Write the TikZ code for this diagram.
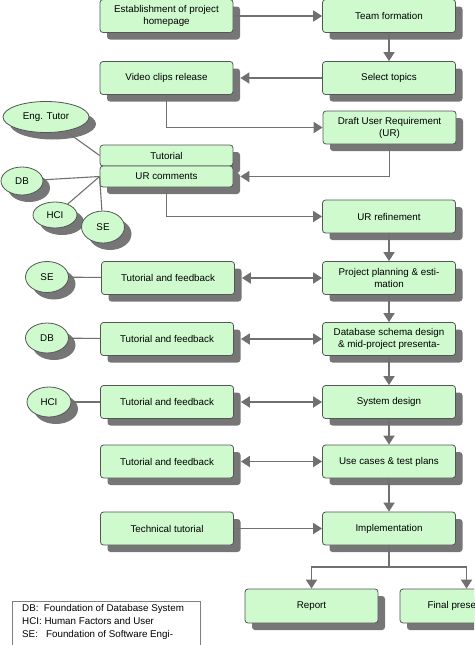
\documentclass[tikz,border=0pt]{standalone}
\usepackage{fontspec}
\setmainfont{Liberation Sans}
\usetikzlibrary{arrows.meta,shapes.geometric,shadows}
\definecolor{boxgreen}{RGB}{206,250,206}
\definecolor{edgegray}{RGB}{85,85,85}
\definecolor{arrowgray}{RGB}{112,112,112}
\definecolor{shadowgray}{RGB}{118,118,118}

\begin{document}
\begin{tikzpicture}[x=1pt,y=-1pt,
    font=\fontsize{9.8}{12}\selectfont,
    shade7/.style={drop shadow={shadow xshift=7pt,shadow yshift=-7pt,fill=shadowgray,opacity=1}},
    stepbox/.style={draw=edgegray,line width=0.8pt,fill=boxgreen,rounded corners=3pt,
        minimum width=133pt,minimum height=33pt,align=center,inner sep=1pt,shade7},
    halfbox/.style={stepbox,minimum height=21pt},
    course/.style={ellipse,draw=edgegray,line width=0.8pt,fill=boxgreen,inner sep=0pt,shade7},
    arr/.style={draw=arrowgray,line width=1.8pt,-{Triangle[length=9pt,width=11pt]}},
    dbl/.style={draw=arrowgray,line width=1.8pt,{Triangle[length=9pt,width=11pt]}-{Triangle[length=9pt,width=11pt]}},
    link/.style={draw=arrowgray,line width=1.1pt}]
    \useasboundingbox (0,0) rectangle (474,645);
    \clip (0,0) rectangle (474,645);

    \node[stepbox] (home) at (166.5,16) {Establishment of project\\homepage};
    \node[stepbox] (team) at (389,16) {Team formation};
    \node[stepbox] (video) at (166.5,78) {Video clips release};
    \node[stepbox] (topics) at (389,78) {Select topics};
    \node[stepbox] (draft) at (389.5,127.5) {Draft User Requirement\\(UR)};
    \node[halfbox] (tutorial) at (166.5,155.5) {Tutorial};
    \node[halfbox] (urcom) at (166.5,176.5) {UR comments};
    \node[stepbox] (refine) at (389,216.5) {UR refinement};

    \node[course,minimum width=86pt,minimum height=31pt] (engtut) at (46,117) {Eng. Tutor};
    \node[course,minimum width=42pt,minimum height=28pt] (dbA) at (22,181) {DB};
    \node[course,minimum width=44pt,minimum height=26pt] (hciA) at (55,215) {HCI};
    \node[course,minimum width=43pt,minimum height=32pt] (seA) at (103,227) {SE};

    \node[stepbox] (plan) at (389,278) {Project planning \& esti-\\mation};
    \node[stepbox] (fbse) at (168,278) {Tutorial and feedback};
    \node[course,minimum width=43pt,minimum height=31pt] (seB) at (47,277) {SE};

    \node[stepbox] (schema) at (389,339) {Database schema design\\\& mid-project presenta-};
    \node[stepbox] (fbdb) at (167,339) {Tutorial and feedback};
    \node[course,minimum width=43pt,minimum height=30pt] (dbB) at (47,338) {DB};

    \node[stepbox] (sysdes) at (389,402) {System design};
    \node[stepbox] (fbhci) at (167,402) {Tutorial and feedback};
    \node[course,minimum width=44pt,minimum height=30pt] (hciB) at (49,402) {HCI};

    \node[stepbox] (usecase) at (389,461.5) {Use cases \& test plans};
    \node[stepbox] (fbuse) at (167,461.5) {Tutorial and feedback};

    \node[stepbox] (impl) at (389,528.5) {Implementation};
    \node[stepbox] (tech) at (167,528.5) {Technical tutorial};

    \node[stepbox,minimum height=34pt] (report) at (311.5,606) {Report};
    \node[stepbox,minimum height=34pt] (final) at (466.5,606) {Final presentation};

    \draw[arr] (home) -- (team);
    \draw[arr] (team) -- (topics);
    \draw[arr] (topics.west) -- ([xshift=7pt]video.east);
    \draw[arr] (video.south) |- (draft.west);
    \draw[arr] (draft.south) |- ([xshift=7pt]urcom.east);
    \draw[arr] (urcom.south) |- (refine.west);
    \draw[arr] (refine) -- (plan);
    \draw[arr] (plan) -- (schema);
    \draw[arr] (schema) -- (sysdes);
    \draw[arr] (sysdes) -- (usecase);
    \draw[arr] (usecase) -- (impl);
    \draw[arr] (tech) -- (impl);
    \coordinate (fork) at (389,567);
    \draw[arr] (impl.south) -- (fork) -| (report.north);
    \draw[arr] (fork) -| (final.north);

    \draw[dbl] ([xshift=7pt]fbse.east) -- (plan.west);
    \draw[dbl] ([xshift=7pt]fbdb.east) -- (schema.west);
    \draw[dbl] ([xshift=7pt]fbhci.east) -- (sysdes.west);
    \draw[dbl] ([xshift=7pt]fbuse.east) -- (usecase.west);

    \draw[link] (engtut) -- (tutorial.west);
    \draw[link] (dbA) -- (urcom.west);
    \draw[link] (hciA) -- (urcom.west);
    \draw[link] (seA) -- (urcom.west);
    \draw[link] (seB) -- (fbse);
    \draw[link] (dbB) -- (fbdb);
    \draw[link] (hciB) -- (fbhci);

    \node[draw=gray,line width=0.6pt,fill=white,anchor=north west,minimum width=188pt,
        minimum height=60pt,inner sep=0pt] (legend) at (12,601) {};
    \node[anchor=north west,align=left,inner sep=0pt,font=\fontsize{9.8}{13}\selectfont] (legtext) at (22,604)
        {DB:\ \ Foundation of Database System\\HCI: Human Factors and User\\SE:\ \ \ Foundation of Software Engi-};
\end{tikzpicture}
\end{document}
